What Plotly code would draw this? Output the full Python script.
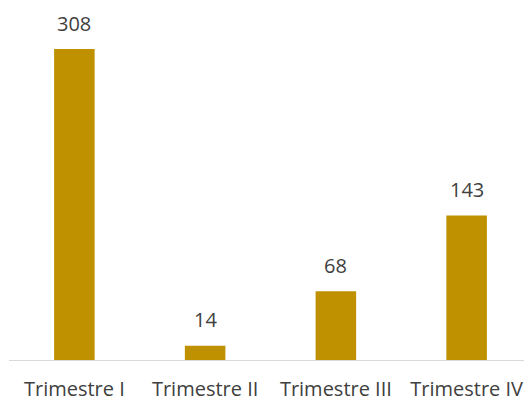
import plotly.graph_objects as go

categories = ["Trimestre I", "Trimestre II", "Trimestre III", "Trimestre IV"]
values = [308, 14, 68, 143]

BAR_COLOR = "#BF9000"
TEXT_COLOR = "#404040"
FONT = "Open Sans"

fig = go.Figure()
fig.add_trace(go.Bar(x=categories, y=values, marker=dict(color=BAR_COLOR, line=dict(width=0)),
                     hoverinfo="skip"))

for c, v in zip(categories, values):
    fig.add_annotation(x=c, y=v, text=str(v), showarrow=False, yanchor="middle",
                       yshift=26, font=dict(family=FONT, size=20, color=TEXT_COLOR))

# page body adds an 8px offset, so the figure is 524x396
fig.update_layout(
    width=524, height=396,
    margin=dict(l=1, r=0, t=0, b=44),
    paper_bgcolor="white", plot_bgcolor="white",
    bargap=0.69,
    showlegend=False,
    xaxis=dict(showline=True, linecolor="#D9D9D9", linewidth=1, showgrid=False,
               ticks="", tickfont=dict(family=FONT, size=20, color=TEXT_COLOR),
               ticklabelstandoff=11, fixedrange=True),
    yaxis=dict(range=[0, 348.6], visible=False, showgrid=False, zeroline=False, fixedrange=True),
)

fig.write_html("out.html", config={"displayModeBar": False})
